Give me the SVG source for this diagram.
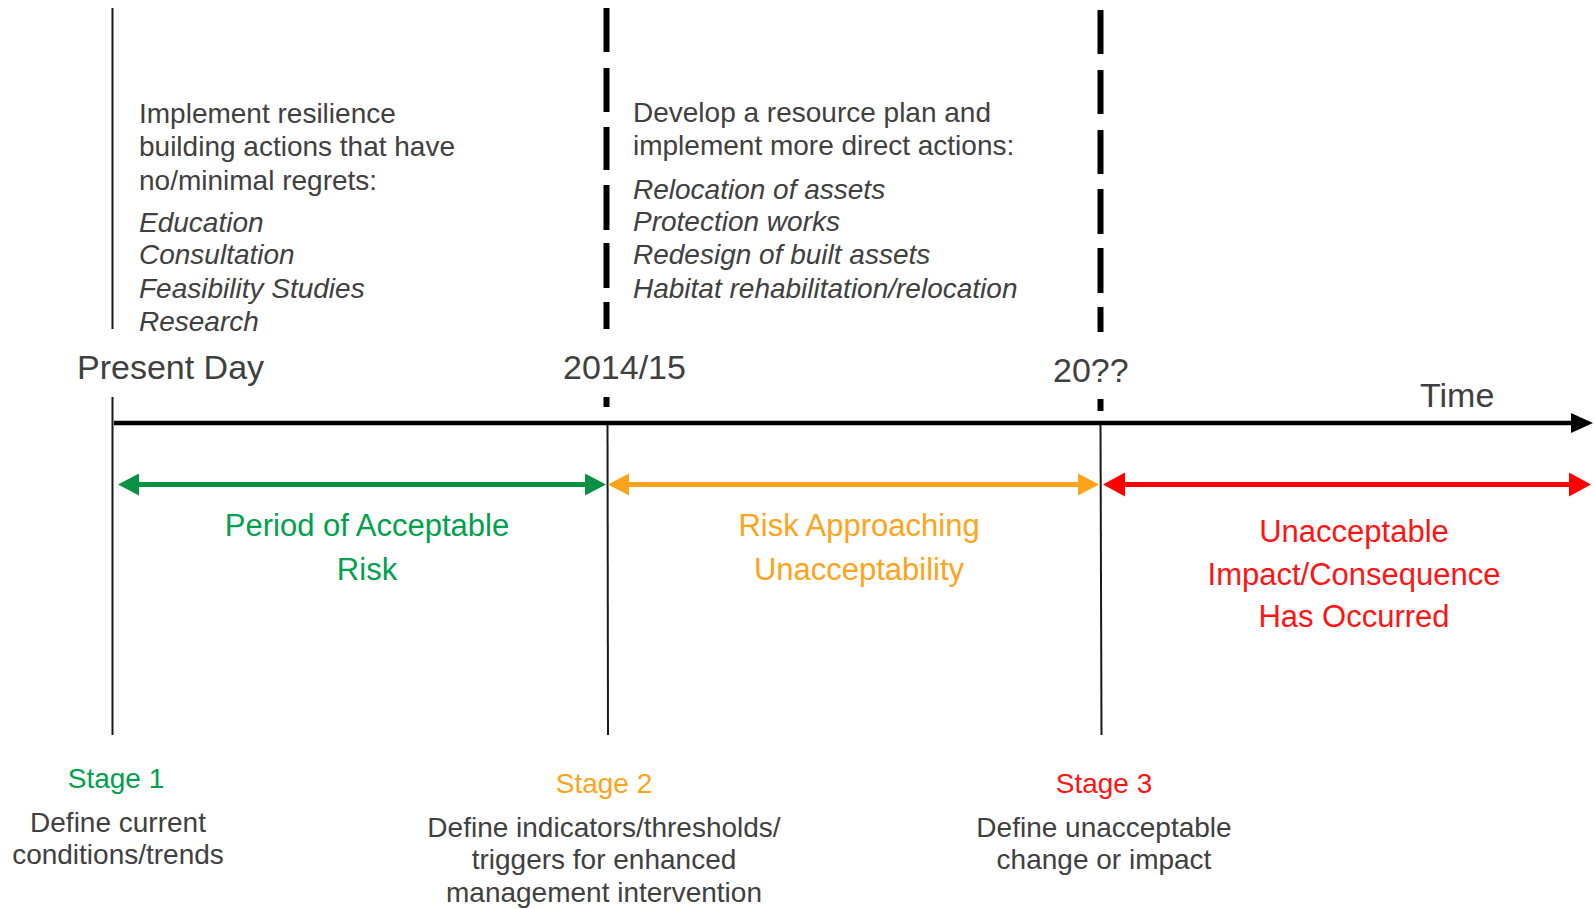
<svg xmlns="http://www.w3.org/2000/svg" width="1595" height="909" viewBox="0 0 1595 909">
  <style>
    text { font-family: "Liberation Sans", Arial, sans-serif; }
    .body { font-size: 28px; fill: #404040; }
    .it { font-style: italic; }
    .mark { font-size: 34px; fill: #404040; }
    .period { font-size: 31px; text-anchor: middle; }
    .stage { font-size: 28px; text-anchor: middle; }
    .green { fill: #00a04c; }
    .orange { fill: #ffa31a; }
    .red { fill: #ff1414; }
    .dash { stroke: #000; stroke-width: 6; }
    .thin { stroke: #1a1a1a; stroke-width: 2; }
  </style>
  <defs>
    <marker id="ah-black" markerUnits="userSpaceOnUse" viewBox="0 0 22 20" refX="12" refY="10" markerWidth="22" markerHeight="20" orient="auto">
      <path d="M0,0 L22,10 L0,20 z" fill="#000"/>
    </marker>
    <marker id="ah-green" markerUnits="userSpaceOnUse" viewBox="0 0 21 22" refX="11" refY="11" markerWidth="21" markerHeight="22" orient="auto-start-reverse">
      <path d="M0,0 L21,11 L0,22 z" fill="#0a9244"/>
    </marker>
    <marker id="ah-orange" markerUnits="userSpaceOnUse" viewBox="0 0 21 22" refX="11" refY="11" markerWidth="21" markerHeight="22" orient="auto-start-reverse">
      <path d="M0,0 L21,11 L0,22 z" fill="#ffa31a"/>
    </marker>
    <marker id="ah-red" markerUnits="userSpaceOnUse" viewBox="0 0 22 24" refX="12" refY="12" markerWidth="22" markerHeight="24" orient="auto-start-reverse">
      <path d="M0,0 L22,12 L0,24 z" fill="#ff0000"/>
    </marker>
  </defs>

  <g id="connectors">
    <!-- Present Day solid line -->
    <line class="thin" x1="112.5" y1="8" x2="112.5" y2="329"/>
    <line class="thin" x1="112.5" y1="397" x2="112.5" y2="735"/>
    <!-- 2014/15 dashed line -->
    <g id="dash-2014">
      <line class="dash" x1="606.5" y1="8" x2="606.5" y2="52"/>
      <line class="dash" x1="606.5" y1="68" x2="606.5" y2="112"/>
      <line class="dash" x1="606.5" y1="127" x2="606.5" y2="170"/>
      <line class="dash" x1="606.5" y1="185" x2="606.5" y2="230"/>
      <line class="dash" x1="606.5" y1="243" x2="606.5" y2="288"/>
      <line class="dash" x1="606.5" y1="302" x2="606.5" y2="329"/>
      <line class="dash" x1="606.5" y1="397" x2="606.5" y2="407"/>
    </g>
    <line class="thin" x1="607.5" y1="423" x2="608" y2="735"/>
    <!-- 20?? dashed line -->
    <g id="dash-20xx">
      <line class="dash" x1="1100.5" y1="10" x2="1100.5" y2="54"/>
      <line class="dash" x1="1100.5" y1="70" x2="1100.5" y2="114"/>
      <line class="dash" x1="1100.5" y1="130" x2="1100.5" y2="174"/>
      <line class="dash" x1="1100.5" y1="189" x2="1100.5" y2="234"/>
      <line class="dash" x1="1100.5" y1="248" x2="1100.5" y2="293"/>
      <line class="dash" x1="1100.5" y1="307" x2="1100.5" y2="332"/>
      <line class="dash" x1="1100.5" y1="399" x2="1100.5" y2="411"/>
    </g>
    <line class="thin" x1="1100.5" y1="423" x2="1101.5" y2="735"/>
    <!-- Time axis -->
    <line x1="114" y1="423" x2="1583" y2="423" stroke="#000" stroke-width="4.5" marker-end="url(#ah-black)"/>
    <!-- Period arrows -->
    <line x1="128" y1="484.5" x2="596" y2="484.5" stroke="#0a9244" stroke-width="5" marker-start="url(#ah-green)" marker-end="url(#ah-green)"/>
    <line x1="618" y1="484.5" x2="1089" y2="484.5" stroke="#ffa31a" stroke-width="5" marker-start="url(#ah-orange)" marker-end="url(#ah-orange)"/>
    <line x1="1113" y1="484.5" x2="1581" y2="484.5" stroke="#ff0000" stroke-width="5" marker-start="url(#ah-red)" marker-end="url(#ah-red)"/>
  </g>

  <g id="present-day">
    <text class="mark" x="77" y="379">Present Day</text>
  </g>
  <g id="year-2014">
    <text class="mark" x="563" y="379">2014/15</text>
  </g>
  <g id="year-20xx">
    <text class="mark" x="1053" y="382">20??</text>
  </g>
  <g id="time-label">
    <text class="mark" x="1420" y="407">Time</text>
  </g>

  <g id="actions-1">
    <text class="body" x="139" y="123">Implement resilience</text>
    <text class="body" x="139" y="156">building actions that have</text>
    <text class="body" x="139" y="190">no/minimal regrets:</text>
    <text class="body it" x="139" y="232">Education</text>
    <text class="body it" x="139" y="264">Consultation</text>
    <text class="body it" x="139" y="298">Feasibility Studies</text>
    <text class="body it" x="139" y="331">Research</text>
  </g>

  <g id="actions-2">
    <text class="body" x="633" y="122">Develop a resource plan and</text>
    <text class="body" x="633" y="155">implement more direct actions:</text>
    <text class="body it" x="633" y="199">Relocation of assets</text>
    <text class="body it" x="633" y="231">Protection works</text>
    <text class="body it" x="633" y="264">Redesign of built assets</text>
    <text class="body it" x="633" y="298">Habitat rehabilitation/relocation</text>
  </g>

  <g id="period-acceptable">
    <text class="period green" x="367" y="536">Period of Acceptable</text>
    <text class="period green" x="367" y="580">Risk</text>
  </g>
  <g id="period-approaching">
    <text class="period orange" x="859" y="536">Risk Approaching</text>
    <text class="period orange" x="859" y="580">Unacceptability</text>
  </g>
  <g id="period-unacceptable">
    <text class="period red" x="1354" y="542">Unacceptable</text>
    <text class="period red" x="1354" y="585">Impact/Consequence</text>
    <text class="period red" x="1354" y="627">Has Occurred</text>
  </g>

  <g id="stage-1">
    <text class="stage green" x="116" y="788">Stage 1</text>
    <text class="stage" fill="#404040" x="118" y="832">Define current</text>
    <text class="stage" fill="#404040" x="118" y="864">conditions/trends</text>
  </g>
  <g id="stage-2">
    <text class="stage orange" x="604" y="793">Stage 2</text>
    <text class="stage" fill="#404040" x="604" y="837">Define indicators/thresholds/</text>
    <text class="stage" fill="#404040" x="604" y="869">triggers for enhanced</text>
    <text class="stage" fill="#404040" x="604" y="902">management intervention</text>
  </g>
  <g id="stage-3">
    <text class="stage red" x="1104" y="793">Stage 3</text>
    <text class="stage" fill="#404040" x="1104" y="837">Define unacceptable</text>
    <text class="stage" fill="#404040" x="1104" y="869">change or impact</text>
  </g>
</svg>
